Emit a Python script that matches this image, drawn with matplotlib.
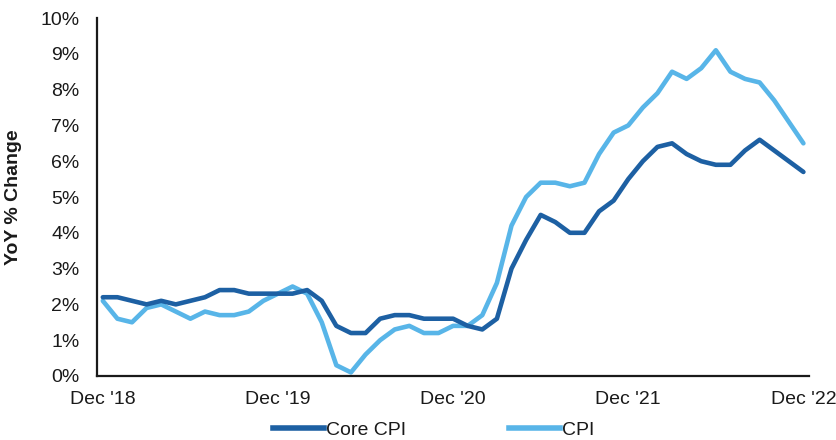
import matplotlib
matplotlib.use("Agg")
import matplotlib.pyplot as plt
from matplotlib.lines import Line2D

plt.rcParams['font.family'] = ['Liberation Sans', 'DejaVu Sans']

# Monthly year-over-year change, Dec 2018 through Dec 2022
months = list(range(49))
core_cpi = [2.2,
            2.2, 2.1, 2.0, 2.1, 2.0, 2.1, 2.2, 2.4, 2.4, 2.3, 2.3, 2.3,
            2.3, 2.4, 2.1, 1.4, 1.2, 1.2, 1.6, 1.7, 1.7, 1.6, 1.6, 1.6,
            1.4, 1.3, 1.6, 3.0, 3.8, 4.5, 4.3, 4.0, 4.0, 4.6, 4.9, 5.5,
            6.0, 6.4, 6.5, 6.2, 6.0, 5.9, 5.9, 6.3, 6.6, 6.3, 6.0, 5.7]
cpi = [2.1,
       1.6, 1.5, 1.9, 2.0, 1.8, 1.6, 1.8, 1.7, 1.7, 1.8, 2.1, 2.3,
       2.5, 2.3, 1.5, 0.3, 0.1, 0.6, 1.0, 1.3, 1.4, 1.2, 1.2, 1.4,
       1.4, 1.7, 2.6, 4.2, 5.0, 5.4, 5.4, 5.3, 5.4, 6.2, 6.8, 7.0,
       7.5, 7.9, 8.5, 8.3, 8.6, 9.1, 8.5, 8.3, 8.2, 7.7, 7.1, 6.5]

tick_pos = [0, 12, 24, 36, 48]
tick_labels = ["Dec '18", "Dec '19", "Dec '20", "Dec '21", "Dec '22"]
y_ticks = list(range(0, 11))

core_color = '#1d60a3'
cpi_color = '#58b5e8'
text_color = '#1a1a1a'

fig = plt.figure(figsize=(8.36, 4.40), dpi=100)
ax = fig.add_axes([0.116, 0.1455, 0.852, 0.8135])

ax.plot(months, core_cpi, color=core_color, lw=3.3, solid_joinstyle='round',
        solid_capstyle='round', label='Core CPI', zorder=3)
ax.plot(months, cpi, color=cpi_color, lw=3.3, solid_joinstyle='round',
        solid_capstyle='round', label='CPI', zorder=2)

ax.set_xlim(-0.4, 48.4)
ax.set_ylim(0, 10)
ax.set_xticks(tick_pos)
ax.set_xticklabels(tick_labels)
ax.set_yticks(y_ticks)
ax.set_yticklabels([f"{v}%" for v in y_ticks])

ax.tick_params(axis='both', length=0, labelsize=14, colors=text_color)
ax.tick_params(axis='y', pad=12.5)
ax.tick_params(axis='x', pad=10.5)

for side in ('top', 'right'):
    ax.spines[side].set_visible(False)
for side in ('left', 'bottom'):
    ax.spines[side].set_color('#1a1a1a')
    ax.spines[side].set_linewidth(1.6)

ax.set_ylabel('YoY % Change', fontsize=14, fontweight='bold',
              color=text_color, labelpad=13)

handles = [Line2D([0], [0], color=core_color, lw=4),
           Line2D([0], [0], color=cpi_color, lw=4)]
fig.legend(handles, ['Core CPI', 'CPI'], loc='center',
           bbox_to_anchor=(434 / 836, 1 - 430 / 440), ncol=2, frameon=False,
           fontsize=14, handlelength=2.6, handletextpad=0.12,
           columnspacing=5.3, labelcolor=text_color)

fig.savefig('out.png', dpi=100)
